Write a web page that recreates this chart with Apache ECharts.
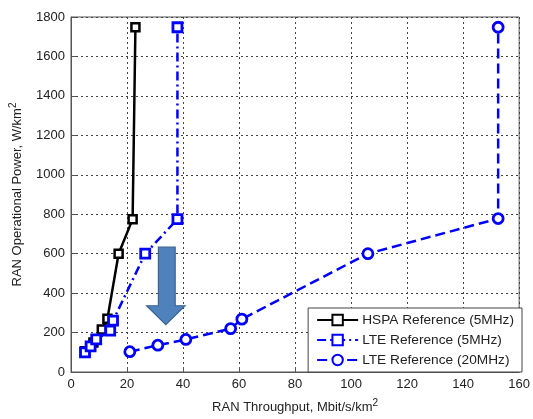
<!DOCTYPE html>
<html><head><meta charset="utf-8">
<script src="https://cdn.jsdelivr.net/npm/echarts@6/dist/echarts.min.js"></script>
<style>html,body{margin:0;padding:0;background:#fff}#c{width:533px;height:419px}</style>
</head><body><div id="c"></div>
<script>
const xTicks = [0, 20, 40, 60, 80, 100, 120, 140, 160];
const yTicks = [0, 200, 400, 600, 800, 1000, 1200, 1400, 1600, 1800];
const hspaX = [5, 8, 11, 13, 17, 22, 23];
const hspaY = [105, 150, 215, 270, 600, 775, 1748];
const lte5X = [5, 7, 9, 14, 15, 26.5, 38, 38];
const lte5Y = [100, 130, 165, 210, 260, 600, 775, 1748];
const lte20X = [21, 31, 41, 57, 61, 106, 152.5, 152.5];
const lte20Y = [103, 136, 165, 220, 268, 600, 778, 1748];
const names = ['HSPA Reference (5MHz)', 'LTE Reference (5MHz)', 'LTE Reference (20MHz)'];
// arrow annotation in data coords: shaft left/right, head left/right, top, head base, tip
const arrowDef = {shaftL: 31.2, shaftR: 37.2, headL: 27, headR: 40.7, top: 633, base: 336, tip: 240};

const zip = (xs, ys) => xs.map((x, i) => [x, ys[i]]);
const font = 'Arial, "Liberation Sans", sans-serif';
const txt = '#222';
const chart = echarts.init(document.getElementById('c'));
const gridLine = {show: true, lineStyle: {color: '#444', type: [2, 3], width: 1}};
chart.setOption({
  animation: false,
  grid: {left: 68, right: 10, top: 17, bottom: 44, show: true, borderColor: '#555', borderWidth: 1, backgroundColor: 'transparent'},
  xAxis: {
    type: 'value', min: 0, max: 160, interval: 20,
    name: '{a|RAN Throughput, Mbit/s/km}{s|2}', nameLocation: 'middle', nameGap: 26,
    nameTextStyle: {rich: {a: {fontSize: 13, fontFamily: font, color: txt}, s: {fontSize: 10, fontFamily: font, color: txt, padding: [0, 0, 9, 0]}}},
    axisLine: {show: true, lineStyle: {color: '#555'}},
    axisTick: {show: true, inside: true, length: 5, lineStyle: {color: '#555'}},
    axisLabel: {fontSize: 13, fontFamily: font, color: txt, margin: 6, formatter: v => xTicks.includes(v) ? String(v) : ''},
    splitLine: gridLine
  },
  yAxis: {
    type: 'value', min: 0, max: 1800, interval: 200,
    name: '{a|RAN Operational Power, W/km}{s|2}', nameLocation: 'middle', nameGap: 44,
    nameTextStyle: {rich: {a: {fontSize: 13, fontFamily: font, color: txt}, s: {fontSize: 10, fontFamily: font, color: txt, padding: [0, 0, 9, 0]}}},
    axisLine: {show: true, lineStyle: {color: '#555'}},
    axisTick: {show: true, inside: true, length: 5, lineStyle: {color: '#555'}},
    axisLabel: {fontSize: 13, fontFamily: font, color: txt, margin: 6, formatter: v => yTicks.includes(v) ? String(v) : ''},
    splitLine: gridLine
  },
  legend: {
    orient: 'vertical', right: 11, bottom: 47,
    backgroundColor: '#fff', borderColor: '#444', borderWidth: 1, borderRadius: 0,
    padding: [5, 8, 5, 8], itemGap: 6, itemWidth: 41, itemHeight: 13,
    textStyle: {fontSize: 13.7, fontFamily: font, color: txt, padding: [0, 0, 0, -1]},
    data: names
  },
  series: [
    {name: names[0], type: 'line', data: zip(hspaX, hspaY), symbol: 'rect', symbolSize: 8,
     lineStyle: {color: '#000', width: 2.5, type: 'solid'},
     itemStyle: {color: '#fff', borderColor: '#000', borderWidth: 2.5}, z: 3},
    {name: names[1], type: 'line', data: zip(lte5X, lte5Y), symbol: 'rect', symbolSize: 9,
     lineStyle: {color: '#0000ff', width: 2.5, type: [9, 4, 2, 4]},
     itemStyle: {color: '#fff', borderColor: '#0000ff', borderWidth: 2.8}, z: 4},
    {name: names[2], type: 'line', data: zip(lte20X, lte20Y), symbol: 'circle', symbolSize: 10,
     lineStyle: {color: '#0000ff', width: 2.5, type: [10, 5]},
     itemStyle: {color: '#fff', borderColor: '#0000ff', borderWidth: 2.8}, z: 4}
  ]
});
const P = (x, y) => chart.convertToPixel({gridIndex: 0}, [x, y]);
const a = arrowDef;
const pts = [P(a.shaftL, a.top), P(a.shaftR, a.top), P(a.shaftR, a.base), P(a.headR, a.base),
  P((a.headL + a.headR) / 2, a.tip), P(a.headL, a.base), P(a.shaftL, a.base)];
chart.setOption({graphic: [{type: 'polygon', shape: {points: pts}, z: 10,
  style: {fill: '#4f81bd', stroke: '#3a6592', lineWidth: 1.2}}]});
</script></body></html>
